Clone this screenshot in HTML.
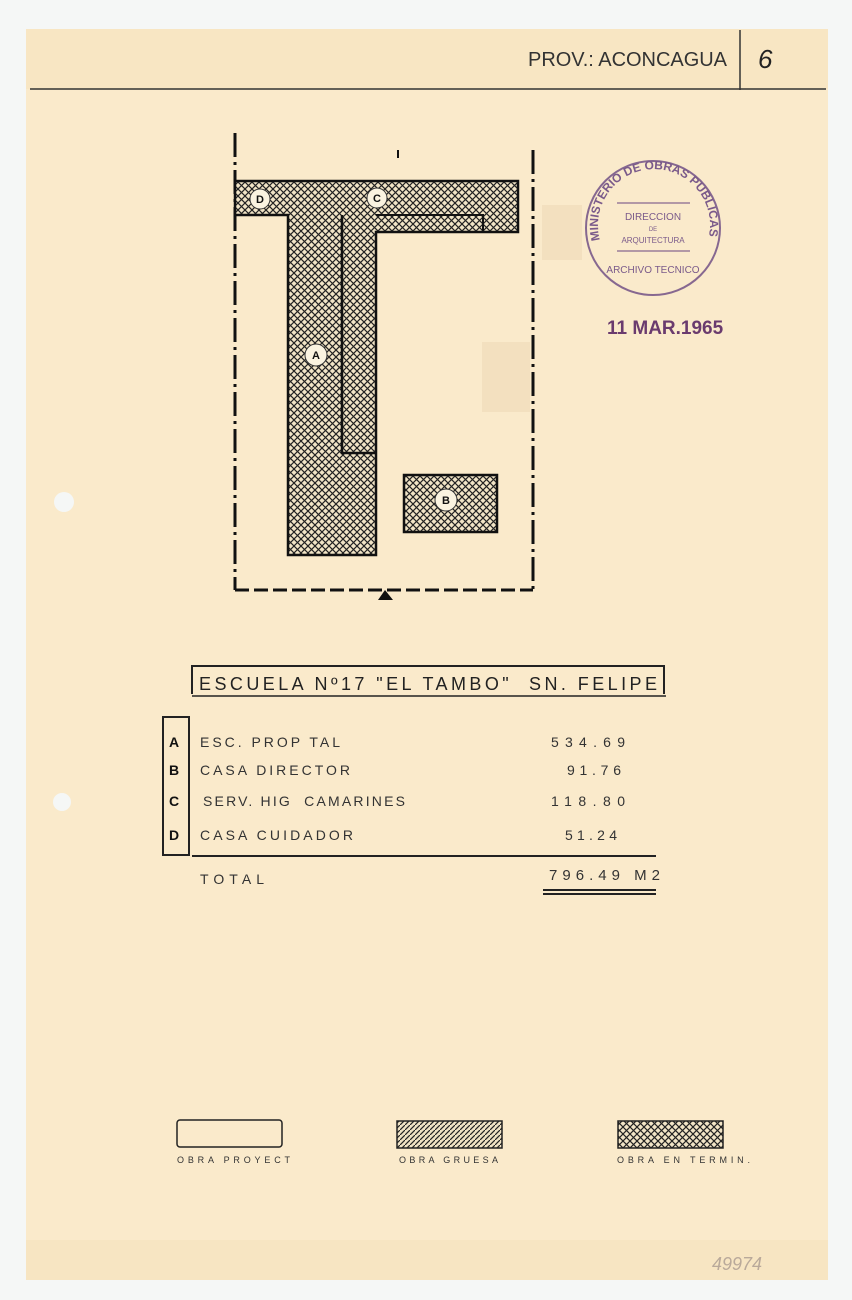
<!DOCTYPE html>
<html><head><meta charset="utf-8"><style>
html,body{margin:0;padding:0;background:#f6f8f7;}
svg{display:block}
text{font-family:"Liberation Sans",sans-serif;}
</style></head><body>
<svg width="852" height="1300" viewBox="0 0 852 1300" xmlns="http://www.w3.org/2000/svg">
<defs>
<pattern id="cross" width="7" height="7" patternUnits="userSpaceOnUse">
<rect width="7" height="7" fill="#f1e4c6"/>
<path d="M0,0 L7,7 M7,0 L0,7" stroke="#222" stroke-width="1.2"/>
</pattern>
<pattern id="diag" width="5" height="5" patternUnits="userSpaceOnUse">
<rect width="5" height="5" fill="#efe2c4"/>
<path d="M-1,6 L6,-1" stroke="#222" stroke-width="1.2"/>
</pattern>
</defs>
<rect x="0" y="0" width="852" height="1300" fill="#f5f7f6"/>
<rect x="26" y="29" width="802" height="1251" fill="#faeacb"/>
<rect x="26" y="29" width="802" height="60" fill="#f8e6c3"/>
<rect x="26" y="1240" width="802" height="40" fill="#f7e5c2"/>
<circle cx="64" cy="502" r="10" fill="#f5f7f6"/>
<circle cx="62" cy="802" r="9" fill="#f5f7f6"/>
<line x1="30" y1="89" x2="826" y2="89" stroke="#333" stroke-width="1.5"/>
<line x1="740" y1="30" x2="740" y2="90" stroke="#333" stroke-width="1.5"/>
<text x="528" y="66" font-size="20" fill="#333" textLength="199">PROV.: ACONCAGUA</text>
<text x="758" y="68" font-size="26" font-style="italic" fill="#222">6</text>
<g stroke="#111" stroke-width="3" fill="none">
<line x1="235" y1="133" x2="235" y2="590" stroke-dasharray="24,5,3,5"/>
<line x1="533" y1="150" x2="533" y2="590" stroke-dasharray="24,5,3,5"/>
<line x1="235" y1="590" x2="533" y2="590" stroke-dasharray="14,5"/>
</g>
<path d="M378,600 L385,590 L393,600 Z" fill="#111"/>
<line x1="398" y1="150" x2="398" y2="158" stroke="#111" stroke-width="2"/>
<path d="M235,181 L518,181 L518,232 L376,232 L376,555 L288,555 L288,215 L235,215 Z" fill="url(#cross)" stroke="#111" stroke-width="2.5"/>
<path d="M342,215 L342,453 L376,453" fill="none" stroke="#111" stroke-width="2.5"/>
<path d="M376,215 L483,215 L483,232" fill="none" stroke="#111" stroke-width="2"/>
<rect x="404" y="475" width="93" height="57" fill="url(#cross)" stroke="#111" stroke-width="2.5"/>
<g fill="#faf3e0" stroke="#333" stroke-width="1">
<circle cx="260" cy="199" r="10"/><circle cx="377" cy="198" r="10"/>
<circle cx="316" cy="355" r="11"/><circle cx="446" cy="500" r="11"/>
</g>
<g font-size="11" font-weight="bold" text-anchor="middle" fill="#111">
<text x="260" y="203">D</text><text x="377" y="202">C</text>
<text x="316" y="359">A</text><text x="446" y="504">B</text>
</g>
<g fill="none" stroke="#7a5a8a" stroke-width="2" opacity="0.9">
<circle cx="653" cy="228" r="67"/>
<line x1="617" y1="203" x2="690" y2="203" stroke-width="1.2"/>
<line x1="617" y1="251" x2="690" y2="251" stroke-width="1.2"/>
</g>
<path id="arc" d="M600,240 A56,56 0 1 1 708,240" fill="none"/>
<text font-size="12" fill="#7a5a8a" font-weight="bold"><textPath href="#arc">MINISTERIO DE OBRAS PUBLICAS</textPath></text>
<text x="653" y="220" font-size="10" fill="#7a5a8a" text-anchor="middle">DIRECCION</text>
<text x="653" y="231" font-size="6" fill="#7a5a8a" text-anchor="middle">DE</text>
<text x="653" y="243" font-size="8" fill="#7a5a8a" text-anchor="middle">ARQUITECTURA</text>
<text x="653" y="273" font-size="10" fill="#7a5a8a" text-anchor="middle">ARCHIVO TECNICO</text>
<text x="607" y="334" font-size="19" font-weight="bold" fill="#6a3b6e">11 MAR.1965</text>
<rect x="482" y="342" width="48" height="70" fill="#efd9b8" opacity="0.6"/>
<rect x="542" y="205" width="40" height="55" fill="#efd9b8" opacity="0.6"/>
<path d="M192,694 L192,666 L664,666 L664,694" fill="none" stroke="#222" stroke-width="2"/>
<line x1="192" y1="696" x2="666" y2="696" stroke="#222" stroke-width="1.5"/>
<text x="199" y="690" font-size="18" fill="#222" textLength="458">ESCUELA Nº17 "EL TAMBO"&#160;&#160;SN. FELIPE</text>
<rect x="163" y="717" width="26" height="138" fill="none" stroke="#222" stroke-width="2"/>
<g font-size="14" font-weight="bold" fill="#111">
<text x="169" y="747">A</text><text x="169" y="775">B</text><text x="169" y="806">C</text><text x="169" y="840">D</text>
</g>
<g font-size="14" fill="#333">
<text x="200" y="747" textLength="140">ESC. PROP TAL</text>
<text x="200" y="775" textLength="150">CASA DIRECTOR</text>
<text x="203" y="806" textLength="202">SERV. HIG&#160;&#160;CAMARINES</text>
<text x="200" y="840" textLength="153">CASA CUIDADOR</text>
<text x="551" y="747" textLength="74">534.69</text>
<text x="567" y="775" textLength="54">91.76</text>
<text x="551" y="806" textLength="74">118.80</text>
<text x="565" y="840" textLength="52">51.24</text>
<text x="200" y="884" textLength="64">TOTAL</text>
<text x="549" y="880" font-size="15" textLength="111">796.49 M2</text>
</g>
<line x1="192" y1="856" x2="656" y2="856" stroke="#222" stroke-width="2"/>
<line x1="543" y1="890" x2="656" y2="890" stroke="#222" stroke-width="2"/>
<line x1="543" y1="894" x2="656" y2="894" stroke="#222" stroke-width="2"/>
<rect x="177" y="1120" width="105" height="27" rx="3" fill="none" stroke="#222" stroke-width="1.5"/>
<rect x="397" y="1121" width="105" height="27" fill="url(#diag)" stroke="#222" stroke-width="1.5"/>
<rect x="618" y="1121" width="105" height="27" fill="url(#cross)" stroke="#222" stroke-width="1.5"/>
<g font-size="9" fill="#333">
<text x="177" y="1163" textLength="113">OBRA PROYECT</text>
<text x="399" y="1163" textLength="99">OBRA GRUESA</text>
<text x="617" y="1163" textLength="133">OBRA EN TERMIN.</text>
</g>
<text x="712" y="1270" font-size="18" fill="#b9a99a" font-style="italic">49974</text>
</svg>
</body></html>
